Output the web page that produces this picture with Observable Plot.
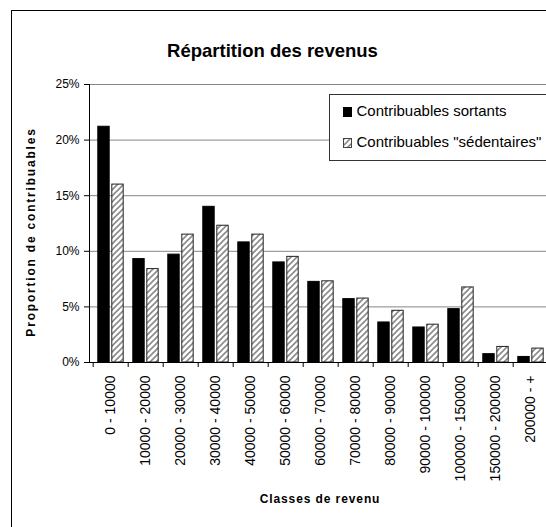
<!DOCTYPE html>
<html>
<head>
<meta charset="utf-8">
<script src="https://cdn.jsdelivr.net/npm/d3@7"></script>
<script src="https://cdn.jsdelivr.net/npm/@observablehq/plot@0.6"></script>
<style>
  html, body { margin: 0; padding: 0; background: #fff; overflow: hidden; }
  #wrap { position: relative; width: 546px; height: 527px; overflow: hidden; font-family: "Liberation Sans", Arial, sans-serif; }
  #frame { position: absolute; left: 11px; top: 10px; width: 700px; height: 700px; border-left: 1px solid #000; border-top: 1px solid #000; }
  #title { position: absolute; left: 0; top: 42px; width: 545px; text-align: center; font-size: 18.5px; line-height: 18.5px; font-weight: bold; color: #000; }
  #chart { position: absolute; left: 0; top: 74px; }
  #ylab { position: absolute; left: 31px; top: 232px; transform: translate(-50%, -50%) rotate(-90deg); white-space: nowrap; font-size: 12px; line-height: 12px; font-weight: bold; letter-spacing: 1.8px; }
  #xlab { position: absolute; left: 320px; top: 493px; transform: translateX(-50%); white-space: nowrap; font-size: 12px; line-height: 12px; font-weight: bold; letter-spacing: 0.9px; }
  #legend { position: absolute; left: 329px; top: 94px; }
</style>
</head>
<body>
<svg width="0" height="0" style="position:absolute">
  <defs>
    <pattern id="hatch" patternUnits="userSpaceOnUse" width="6" height="6">
      <rect width="6" height="6" fill="#fff"></rect>
      <path d="M-1,1 l2,-2 M0,6 l6,-6 M5,7 l2,-2" stroke="#8a8a8a" stroke-width="1.6"></path>
    </pattern>
  </defs>
</svg>
<div id="wrap">
  <div id="frame"></div>
  <div id="title">Répartition des revenus</div>
  <div id="chart"></div>
  <div id="ylab">Proportion de contribuables</div>
  <div id="xlab">Classes de revenu</div>
  <div id="legend"></div>
</div>
<script>
// ---- data ----
const categories = ["0 - 10000", "10000 - 20000", "20000 - 30000", "30000 - 40000", "40000 - 50000",
  "50000 - 60000", "60000 - 70000", "70000 - 80000", "80000 - 90000", "90000 - 100000",
  "100000 - 150000", "150000 - 200000", "200000 - +"];
const seriesNames = ["Contribuables sortants", "Contribuables \"sédentaires\""];
const sortants =    [21.2, 9.3, 9.7, 14.0, 10.8, 9.0, 7.25, 5.7, 3.6, 3.15, 4.8, 0.75, 0.5];
const sedentaires = [16.0, 8.4, 11.5, 12.3, 11.5, 9.5, 7.3, 5.75, 4.65, 3.4, 6.75, 1.4, 1.25];
const yTicks = [0, 5, 10, 15, 20, 25];

const rows = categories.map((c, i) => ({cat: c, sortants: sortants[i], sedentaires: sedentaires[i]}));

// ---- layout ----
const W = 552, mL = 89, mR = 0, mT = 10, plotH = 278, mB = 125;
const step = (W - mL - mR) / categories.length;
const barW = 12, gap = 2, padL = 4.8;
const font = "'Liberation Sans', Arial, sans-serif";

const chart = Plot.plot({
  width: W,
  height: mT + plotH + mB,
  marginLeft: mL, marginRight: mR, marginTop: mT, marginBottom: mB,
  style: {fontFamily: font, fontSize: "12px", color: "#000", background: "transparent", maxWidth: "none", overflow: "visible"},
  x: {domain: categories, padding: 0, axis: null},
  y: {domain: [0, 25], axis: null},
  marks: [
    Plot.gridY(yTicks.filter(v => v > 0), {stroke: "#868686", strokeOpacity: 1, strokeWidth: 1}),
    Plot.barY(rows, {x: "cat", y: "sortants", fill: "#000", stroke: "#000", strokeWidth: 1,
      insetLeft: padL, insetRight: step - padL - barW}),
    Plot.barY(rows, {x: "cat", y: "sedentaires", fill: "url(#hatch)", stroke: "#222", strokeWidth: 1,
      insetLeft: padL + barW + gap, insetRight: step - padL - 2 * barW - gap}),
    Plot.frame({anchor: "left", stroke: "#000"}),
    Plot.ruleY([0], {stroke: "#000"}),
    Plot.axisY({ticks: yTicks, tickFormat: d => d + "%", tickSize: 5, tickPadding: 5, label: null, fontSize: 12, stroke: "#000"}),
    Plot.axisX({text: null, tickSize: 5, dx: -step / 2, label: null, stroke: "#000"}),
    Plot.axisX({tickSize: 0, tickPadding: 13, tickRotate: -90, label: null, fontSize: 14})
  ]
});
document.getElementById("chart").appendChild(chart);

// ---- legend ----
const lg = d3.select("#legend").append("svg").attr("width", 230).attr("height", 67)
  .style("display", "block").style("overflow", "visible");
lg.append("rect").attr("x", 0.5).attr("y", 0.5).attr("width", 240).attr("height", 66)
  .attr("fill", "#fff").attr("stroke", "#333");
const fills = ["#000", "url(#hatch)"];
const baselines = [22, 53];
seriesNames.forEach((name, i) => {
  lg.append("rect").attr("x", 14.5).attr("y", baselines[i] - 8.5).attr("width", 8).attr("height", 9)
    .attr("fill", fills[i]).attr("stroke", i ? "#444" : "#000").attr("stroke-width", 1);
  lg.append("text").attr("x", 27.5).attr("y", baselines[i]).text(name)
    .attr("font-family", font).attr("font-size", 15).attr("fill", "#000");
});
</script>
</body>
</html>
